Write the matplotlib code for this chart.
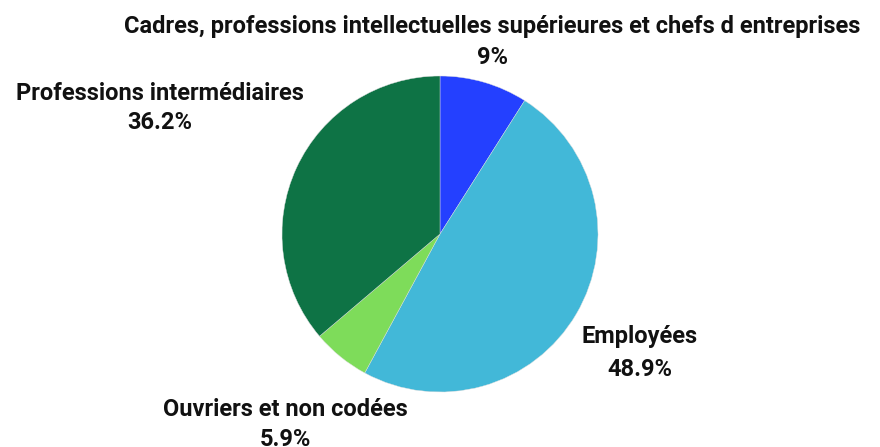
import matplotlib
matplotlib.use("Agg")
import matplotlib.pyplot as plt

categories = ["Cadres, professions intellectuelles supérieures et chefs d entreprises",
              "Employées", "Ouvriers et non codées", "Professions intermédiaires"]
values = [9.0, 48.9, 5.9, 36.2]
value_labels = ["9%", "48.9%", "5.9%", "36.2%"]
colors = ["#2440FF", "#42B8D8", "#7EDC5A", "#0E7345"]

W, H = 880, 447
fig = plt.figure(figsize=(W / 100, H / 100), dpi=100)
cx, cy, r = 440, 234, 158
ax = fig.add_axes([(cx - r) / W, (H - cy - r) / H, 2 * r / W, 2 * r / H])
ax.pie(values, colors=colors, startangle=90, counterclock=False, radius=1,
       wedgeprops=dict(linewidth=0.3, edgecolor="#dddddd"))
ax.set_xlim(-1, 1)
ax.set_ylim(-1, 1)
ax.set_aspect("equal")
ax.axis("off")

# label positions (pixels): name line, value line
label_pos = [(492, 27, 58), (640, 336, 370), (285, 410, 440), (160, 93, 123)]
font = dict(family=["Roboto", "DejaVu Sans"], fontweight="bold", fontsize=17, color="#111111")
for name, val, (x, y1, y2) in zip(categories, value_labels, label_pos):
    fig.text(x / W, 1 - y1 / H, name, ha="center", va="center", **font)
    fig.text(x / W, 1 - y2 / H, val, ha="center", va="center", **font)

fig.savefig("out.png", dpi=100)
